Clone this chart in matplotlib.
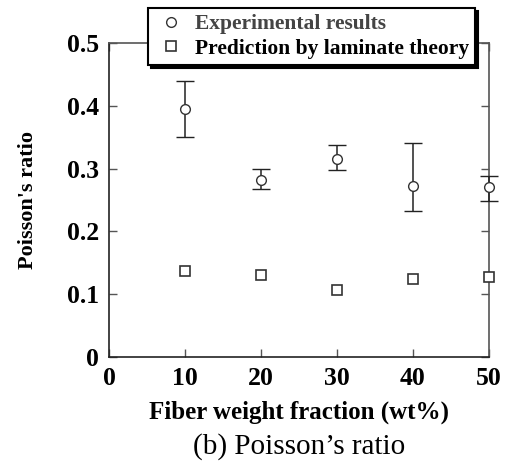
import matplotlib
matplotlib.use("Agg")
import matplotlib.pyplot as plt
from matplotlib.lines import Line2D
import numpy as np

plt.rcParams['font.family'] = ['Liberation Serif', 'DejaVu Serif']

fiber_wt = [10, 20, 30, 40, 50]
exp_mean = [0.395, 0.282, 0.316, 0.272, 0.270]
exp_upper = [0.439, 0.300, 0.338, 0.341, 0.288]
exp_lower = [0.350, 0.267, 0.297, 0.232, 0.248]
pred = [0.137, 0.131, 0.107, 0.124, 0.127]
xticks = [0, 10, 20, 30, 40, 50]
yticks = [0, 0.1, 0.2, 0.3, 0.4, 0.5]
yticklabels = ['0', '0.1', '0.2', '0.3', '0.4', '0.5']

fig = plt.figure(figsize=(5.13, 4.66), dpi=100)
ax = fig.add_axes([109/513, 1-357/466, 380/513, 314/466])

yerr = [np.array(exp_mean) - np.array(exp_lower), np.array(exp_upper) - np.array(exp_mean)]
eb = ax.errorbar(fiber_wt, exp_mean, yerr=yerr, fmt='o', mfc='white', mec='#333333',
                 ms=7, mew=1.0, ecolor='#222222', elinewidth=1.1, capsize=6.5, capthick=1.1,
                 clip_on=False, zorder=3)
for artist in list(eb.lines[1]) + list(eb.lines[2]):
    artist.set_clip_on(False)
ax.plot(fiber_wt, pred, 's', mfc='white', mec='#333333', ms=6.5, mew=1.2, linestyle='none',
        clip_on=False, zorder=3)

ax.set_xlim(0, 50)
ax.set_ylim(0, 0.5)
ax.set_xticks(xticks)
ax.set_xticklabels([str(v) for v in xticks])
ax.set_yticks(yticks)
ax.set_yticklabels(yticklabels)
ax.tick_params(direction='in', top=True, right=True, length=6, width=1, colors='#555555',
               labelcolor='black', labelsize=18.5)
ax.tick_params(axis='x', pad=7)
ax.tick_params(axis='y', pad=7)
for lab in ax.get_xticklabels() + ax.get_yticklabels():
    lab.set_fontweight('bold')
for s in ax.spines.values():
    s.set_color('#555555')
    s.set_linewidth(1.2)
ax.spines['left'].set_color('#222222')
ax.spines['bottom'].set_color('#222222')

ax.set_xlabel('Fiber weight fraction (wt%)', fontsize=18, fontweight='bold', labelpad=8)
ax.set_ylabel("Poisson's ratio", fontsize=16, fontweight='bold', labelpad=21)

handles = [
    Line2D([], [], marker='o', mfc='white', mec='#333333', ms=7, mew=1.0, linestyle='none'),
    Line2D([], [], marker='s', mfc='white', mec='#333333', ms=6.5, mew=1.2, linestyle='none'),
]
labels = ['Experimental results', 'Prediction by laminate theory']
leg = ax.legend(handles, labels, loc='upper left', bbox_to_anchor=(148/513, 1-8/466),
                bbox_transform=fig.transFigure, frameon=True, fancybox=False,
                shadow={'color': 'black', 'alpha': 1.0}, handletextpad=0.35,
                borderpad=0.28, labelspacing=0.22, handlelength=1.55, borderaxespad=0,
                prop={'weight': 'bold', 'size': 15.5})
leg.get_frame().set_edgecolor('black')
leg.get_frame().set_linewidth(1.5)
leg.get_frame().set_alpha(1)
leg.get_texts()[0].set_color('#444444')
leg.set_zorder(10)

fig.text(0.5*(109+489)/513, 1-447/466, "(b) Poisson\u2019s ratio", ha='center', va='center', fontsize=21)

fig.savefig('out.png', dpi=100)
